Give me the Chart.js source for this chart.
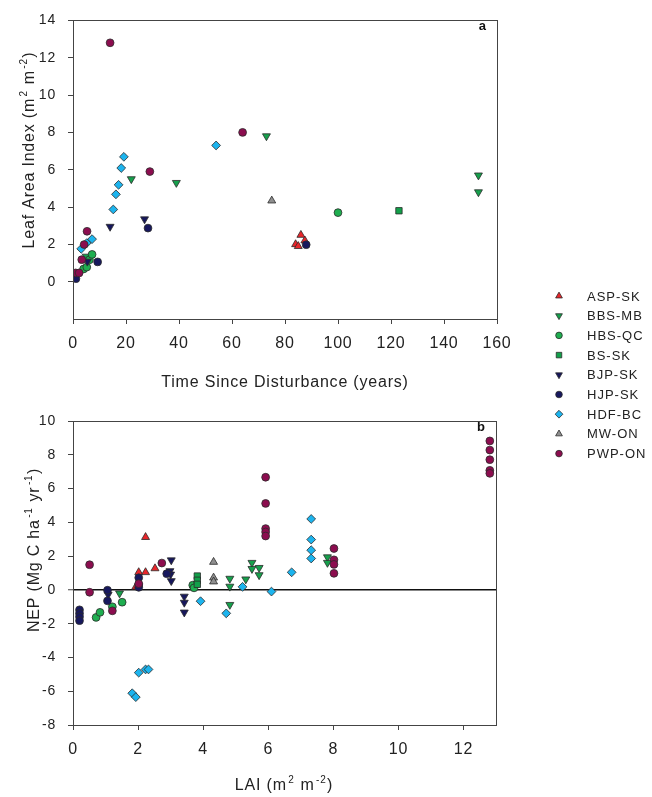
<!DOCTYPE html>
<html lang="en">
<head>
<meta charset="utf-8">
<title>LAI e NEP por sítio</title>
<script src="https://cdn.jsdelivr.net/npm/chart.js@4.4.1/dist/chart.umd.min.js"></script>
<style>
  html, body { margin: 0; padding: 0; background: #fff; }
  #quadro { position: relative; width: 652px; height: 797px; }
  #graficoA { position: absolute; left: 0; top: 0; }
  #graficoB { position: absolute; left: 0; top: 400px; }
</style>
</head>
<body>
<div id="quadro">
  <canvas id="graficoA" width="652" height="470"></canvas>
  <canvas id="graficoB" width="652" height="397"></canvas>
</div>
<script>
// Sítios (ordem da legenda)
const sitios = ['ASP-SK', 'BBS-MB', 'HBS-QC', 'BS-SK', 'BJP-SK', 'HJP-SK', 'HDF-BC', 'MW-ON', 'PWP-ON'];

// Painel a: [anos desde o distúrbio, LAI]
const aspIdade = [[84, 2.0], [85, 1.9], [86, 2.5], [87.5, 2.2]];
const bbsIdade = [[5, 1.35], [22, 5.5], [39, 5.3], [73, 7.8], [153, 5.7], [153, 4.8]];
const hbsIdade = [[4, 0.68], [5.2, 0.78], [6.2, 1.17], [7.2, 1.46], [100, 3.7]];
const bsIdade = [[123, 3.8]];
const bjpIdade = [[5.4, 1.08], [14, 2.95], [27, 3.35]];
const hjpIdade = [[1.1, 0.16], [9.3, 1.06], [28.3, 2.87], [88, 1.98]];
const hdfIdade = [[3.1, 1.76], [5.2, 2.07], [7.2, 2.28], [15.2, 3.87], [16.2, 4.68], [17.2, 5.19], [18.2, 6.09], [19.2, 6.69], [54, 7.3]];
const mwIdade = [[75, 4.34]];
const pwpIdade = [[1, 0.47], [2.3, 0.47], [3.3, 1.18], [4.2, 1.99], [5.3, 2.7], [14, 12.8], [29, 5.9], [64, 8.0]];

// Painel b: [LAI, NEP]
const aspNep = [[1.93, 0.18], [2.02, 1.04], [2.23, 1.04], [2.23, 3.12], [2.52, 1.27]];
const bbsNep = [[1.43, -0.2], [4.82, 0.67], [4.82, 0.2], [4.82, -0.88], [5.31, 0.63], [5.5, 1.61], [5.5, 1.25], [5.72, 1.31], [5.72, 0.88], [7.82, 1.94], [7.82, 1.61]];
const hbsNep = [[0.71, -1.63], [0.83, -1.33], [1.21, -1.0], [1.51, -0.73], [3.68, 0.28], [3.72, 0.12]];
const bsNep = [[3.82, 0.82], [3.82, 0.57], [3.82, 0.33]];
const bjpNep = [[1.08, -0.28], [3.02, 1.76], [2.98, 1.12], [3.0, 0.92], [3.02, 0.53], [3.42, -0.39], [3.42, -0.75], [3.42, -1.33]];
const hjpNep = [[0.2, -1.18], [0.2, -1.39], [0.2, -1.59], [0.2, -1.82], [1.06, -0.02], [1.06, -0.65], [2.02, 0.72], [2.02, 0.3], [2.02, 0.15], [2.88, 0.96]];
const hdfNep = [[1.82, -6.12], [1.93, -6.35], [2.02, -4.9], [2.23, -4.71], [2.32, -4.71], [3.92, -0.67], [4.71, -1.39], [5.21, 0.18], [6.1, -0.1], [6.72, 1.04], [7.32, 4.2], [7.32, 2.98], [7.32, 2.35], [7.32, 1.86]];
const mwNep = [[4.32, 1.65], [4.32, 0.72], [4.32, 0.49]];
const pwpNep = [[0.51, 1.49], [0.51, -0.14], [1.21, -1.24], [2.02, 0.37], [2.73, 1.59], [5.92, 6.67], [5.92, 5.12], [5.92, 3.63], [5.92, 3.43], [5.92, 3.19], [8.02, 2.45], [8.02, 1.78], [8.02, 1.51], [8.02, 0.98], [12.81, 8.82], [12.81, 8.28], [12.81, 7.71], [12.81, 7.08], [12.81, 6.9]];

// Marcas dos eixos
const ticksIdade = [0, 20, 40, 60, 80, 100, 120, 140, 160];
const ticksLaiA = [0, 2, 4, 6, 8, 10, 12, 14];
const ticksLaiB = [0, 2, 4, 6, 8, 10, 12];
const ticksNep = [-8, -6, -4, -2, 0, 2, 4, 6, 8, 10];

// Estilo de cada sítio (mesma ordem de "sitios")
const estilos = [
    { cor: '#e8262b', forma: 'triangle', giro: 0, raio: 4.6 },
    { cor: '#16a04c', forma: 'triangle', giro: 180, raio: 4.6 },
    { cor: '#1fae50', forma: 'circle', giro: 0, raio: 3.9 },
    { cor: '#12a04a', forma: 'rect', giro: 0, raio: 4.5 },
    { cor: '#16175c', forma: 'triangle', giro: 180, raio: 4.6 },
    { cor: '#17185e', forma: 'circle', giro: 0, raio: 3.9 },
    { cor: '#1cb4ee', forma: 'rectRot', giro: 0, raio: 4.4 },
    { cor: '#8f8f8f', forma: 'triangle', giro: 0, raio: 4.6 },
    { cor: '#8c0d4f', forma: 'circle', giro: 0, raio: 3.9 }
];

const familia = "'Liberation Sans', Arial, sans-serif";
const corTexto = '#222';
const corEixo = '#444';

Chart.defaults.font.family = familia;
Chart.defaults.color = corTexto;

function montaDatasets(series) {
    return sitios.map((nome, i) => ({
        label: nome,
        data: series[i].map(p => ({ x: p[0], y: p[1] })),
        order: sitios.length - i, // o último sítio fica por cima
        pointStyle: estilos[i].forma,
        pointRotation: estilos[i].giro,
        pointRadius: estilos[i].raio,
        pointHoverRadius: estilos[i].raio,
        pointBackgroundColor: estilos[i].cor,
        pointBorderColor: '#2b2b2b',
        pointBorderWidth: 0.8,
        backgroundColor: estilos[i].cor,
        borderColor: '#2b2b2b',
        showLine: false
    }));
}

// Texto com expoentes (m², ha⁻¹ ...)
function desenhaTitulo(ctx, partes, x, y, angulo) {
    const normal = '16px ' + familia;
    const expoente = '10px ' + familia;
    ctx.save();
    ctx.translate(x, y);
    ctx.rotate(angulo);
    ctx.fillStyle = corTexto;
    ctx.textBaseline = 'alphabetic';
    ctx.textAlign = 'left';
    ctx.letterSpacing = '0.8px';
    const larguras = partes.map(p => {
        ctx.font = p.sup ? expoente : normal;
        return ctx.measureText(p.t).width + (p.sup ? 2 : 0);
    });
    let cx = -larguras.reduce((a, b) => a + b, 0) / 2;
    partes.forEach((p, i) => {
        ctx.font = p.sup ? expoente : normal;
        ctx.fillText(p.t, cx + (p.sup ? 1.5 : 0), p.sup ? -1 : 6);
        cx += larguras[i];
    });
    ctx.restore();
}

// Moldura, títulos dos eixos e letra do painel
function plugRotulos(cfg) {
    return {
        id: 'rotulos',
        beforeDraw(chart) {
            chart.ctx.letterSpacing = '0.8px';
        },
        afterDraw(chart) {
            const ctx = chart.ctx;
            const a = chart.chartArea;
            ctx.save();
            ctx.strokeStyle = corEixo;
            ctx.lineWidth = 1;
            ctx.strokeRect(Math.round(a.left) + 0.5, Math.round(a.top) + 0.5,
                Math.round(a.right - a.left), Math.round(a.bottom - a.top));
            ctx.font = 'bold 13px ' + familia;
            ctx.fillStyle = '#111';
            ctx.textAlign = 'right';
            ctx.textBaseline = 'middle';
            ctx.letterSpacing = '0px';
            ctx.fillText(cfg.letra, a.right - 11, a.top + 6);
            ctx.restore();
            desenhaTitulo(ctx, cfg.tituloY, cfg.posY[0], cfg.posY[1], -Math.PI / 2);
            desenhaTitulo(ctx, cfg.tituloX, cfg.posX[0], cfg.posX[1], 0);
        }
    };
}

// Legenda entre os dois painéis
const legendaLateral = {
    id: 'legendaLateral',
    afterDraw(chart) {
        const ctx = chart.ctx;
        ctx.save();
        ctx.font = '13px ' + familia;
        ctx.letterSpacing = '1px';
        ctx.textBaseline = 'middle';
        chart.data.datasets.forEach((ds, i) => {
            const y = 296 + i * 19.7;
            ctx.fillStyle = ds.pointBackgroundColor;
            ctx.strokeStyle = ds.pointBorderColor;
            ctx.lineWidth = 0.8;
            Chart.helpers.drawPoint(ctx, {
                pointStyle: ds.pointStyle,
                radius: ds.pointStyle === 'circle' ? 3.3 : 3.9,
                rotation: ds.pointRotation,
                borderWidth: 0.8
            }, 559, y);
            ctx.fillStyle = corTexto;
            ctx.fillText(ds.label, 587, y + 1);
        });
        ctx.restore();
    }
};

function eixo(min, max, marcas, extra) {
    return Object.assign({
        type: 'linear',
        min: min,
        max: max,
        afterBuildTicks: s => { s.ticks = marcas.map(v => ({ value: v })); },
        border: { display: false },
        grid: { drawOnChartArea: false, drawTicks: true, tickLength: 5, color: corEixo }
    }, extra);
}

// Painel a
new Chart(document.getElementById('graficoA'), {
    type: 'scatter',
    data: { datasets: montaDatasets([aspIdade, bbsIdade, hbsIdade, bsIdade, bjpIdade, hjpIdade, hdfIdade, mwIdade, pwpIdade]) },
    options: {
        responsive: false,
        animation: false,
        layout: { padding: { left: 0, top: 15, right: 155, bottom: 111 } },
        plugins: { legend: { display: false }, tooltip: { enabled: false } },
        scales: {
            x: eixo(0, 160, ticksIdade, {
                afterFit: s => { s.height = 40; },
                ticks: { font: { size: 16 }, padding: 10, maxRotation: 0, color: corTexto }
            }),
            y: eixo(-2, 14, ticksLaiA, {
                afterFit: s => { s.width = 73; },
                ticks: { font: { size: 14 }, padding: 12, color: corTexto }
            })
        }
    },
    plugins: [plugRotulos({
        letra: 'a',
        tituloY: [{ t: 'Leaf Area Index (m' }, { t: '2', sup: true }, { t: ' m' }, { t: '-2', sup: true }, { t: ')' }],
        posY: [28, 150],
        tituloX: [{ t: 'Time Since Disturbance (years)' }],
        posX: [285, 381]
    }), legendaLateral]
});

// Painel b
new Chart(document.getElementById('graficoB'), {
    type: 'scatter',
    data: { datasets: montaDatasets([aspNep, bbsNep, hbsNep, bsNep, bjpNep, hjpNep, hdfNep, mwNep, pwpNep]) },
    options: {
        responsive: false,
        animation: false,
        layout: { padding: { left: 0, top: 21, right: 156, bottom: 32 } },
        plugins: { legend: { display: false }, tooltip: { enabled: false } },
        scales: {
            x: eixo(0, 13, ticksLaiB, {
                afterFit: s => { s.height = 40; },
                ticks: { font: { size: 16 }, padding: 10, maxRotation: 0, color: corTexto }
            }),
            y: eixo(-8, 10, ticksNep, {
                afterFit: s => { s.width = 73; },
                ticks: { font: { size: 14 }, padding: 12, color: corTexto },
                grid: {
                    drawOnChartArea: true,
                    drawTicks: true,
                    tickLength: 5,
                    tickColor: corEixo,
                    tickWidth: 1,
                    // só a linha do zero aparece dentro do gráfico
                    color: c => (c.tick && c.tick.value === 0) ? '#111' : 'rgba(0,0,0,0)',
                    lineWidth: c => (c.tick && c.tick.value === 0) ? 1.5 : 1
                }
            })
        }
    },
    plugins: [plugRotulos({
        letra: 'b',
        tituloY: [{ t: 'NEP (Mg C ha' }, { t: '-1', sup: true }, { t: ' yr' }, { t: '-1', sup: true }, { t: ')' }],
        posY: [33, 150],
        tituloX: [{ t: 'LAI (m' }, { t: '2', sup: true }, { t: ' m' }, { t: '-2', sup: true }, { t: ')' }],
        posX: [284, 384]
    })]
});
</script>
</body>
</html>
